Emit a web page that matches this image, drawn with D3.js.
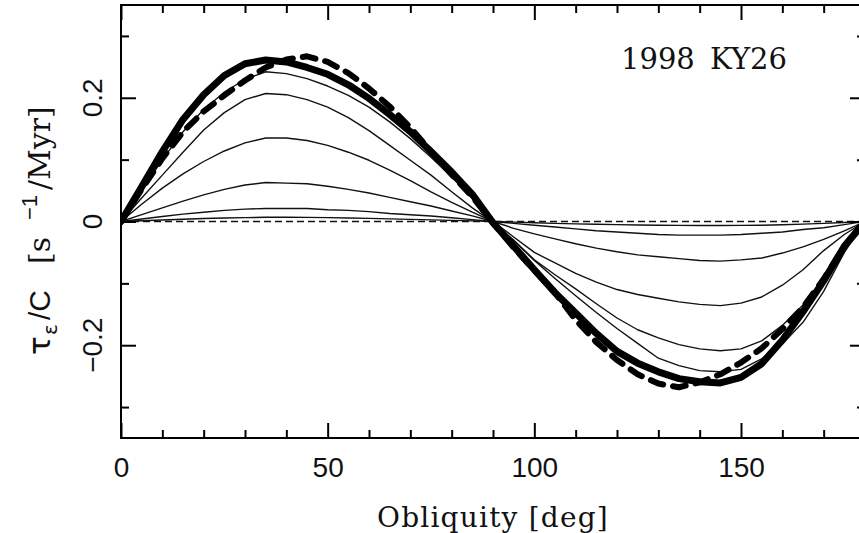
<!DOCTYPE html>
<html><head><meta charset="utf-8">
<script src="https://cdn.jsdelivr.net/npm/d3@7"></script>
<style>body{margin:0;background:#fff}svg{display:block}</style>
</head><body>
<svg id="c" width="859" height="533"></svg>
<script>
// ---- data ----
const obliquity = [0,5,10,15,20,25,30,35,40,45,50,55,60,65,70,75,80,85,90,95,100,105,110,115,120,125,130,135,140,145,150,155,160,165,170,175,180];
const thickSolid = [0,0.056,0.113,0.165,0.205,0.236,0.255,0.261,0.258,0.249,0.238,0.221,0.199,0.173,0.145,0.113,0.080,0.044,-0.002,
  -0.040,-0.078,-0.115,-0.148,-0.181,-0.210,-0.229,-0.243,-0.254,-0.259,-0.261,-0.252,-0.230,-0.192,-0.146,-0.096,-0.040,0];
const thickDashed = [0,0.052,0.102,0.145,0.178,0.204,0.228,0.249,0.262,0.267,0.258,0.240,0.215,0.186,0.152,0.113,0.076,0.040,-0.002,
  -0.042,-0.079,-0.115,-0.159,-0.195,-0.224,-0.247,-0.262,-0.268,-0.260,-0.247,-0.228,-0.205,-0.174,-0.139,-0.093,-0.040,0];
const thin1 = [0,0.050,0.100,0.145,0.181,0.209,0.230,0.242,0.239,0.231,0.219,0.204,0.185,0.161,0.134,0.104,0.072,0.037,-0.001,
  -0.031,-0.063,-0.092,-0.120,-0.147,-0.173,-0.197,-0.221,-0.233,-0.241,-0.243,-0.239,-0.222,-0.198,-0.163,-0.113,-0.050,0];
const thin2 = [0,0.038,0.075,0.112,0.148,0.176,0.197,0.207,0.205,0.197,0.185,0.168,0.147,0.123,0.099,0.075,0.048,0.022,-0.001,
  -0.030,-0.062,-0.086,-0.109,-0.133,-0.156,-0.175,-0.188,-0.199,-0.206,-0.209,-0.206,-0.193,-0.168,-0.135,-0.092,-0.045,0];
const thin3 = [0,0.028,0.054,0.077,0.097,0.114,0.127,0.135,0.135,0.131,0.123,0.112,0.099,0.083,0.066,0.048,0.031,0.015,0,
  -0.025,-0.050,-0.067,-0.084,-0.098,-0.110,-0.118,-0.124,-0.130,-0.134,-0.136,-0.132,-0.122,-0.103,-0.078,-0.047,-0.021,0];
const thin4 = [0,0.011,0.022,0.033,0.043,0.052,0.059,0.063,0.062,0.061,0.057,0.052,0.046,0.039,0.032,0.025,0.017,0.009,0,
  -0.011,-0.020,-0.028,-0.036,-0.043,-0.049,-0.054,-0.057,-0.060,-0.063,-0.064,-0.062,-0.059,-0.051,-0.041,-0.029,-0.015,0];
const thin5 = [0,0.004,0.008,0.012,0.015,0.018,0.020,0.021,0.021,0.021,0.019,0.018,0.016,0.013,0.011,0.009,0.006,0.003,0,
  -0.003,-0.006,-0.009,-0.012,-0.015,-0.017,-0.019,-0.021,-0.022,-0.022,-0.022,-0.021,-0.019,-0.017,-0.013,-0.010,-0.005,0];
const thin6 = [0,0.0012,0.0025,0.0037,0.0048,0.0057,0.0063,0.0068,0.0068,0.0066,0.0062,0.0057,0.0050,0.0043,0.0035,0.0027,0.0019,0.0010,0,
  -0.0010,-0.0020,-0.0030,-0.0038,-0.0045,-0.0051,-0.0056,-0.0060,-0.0062,-0.0064,-0.0065,-0.0063,-0.0060,-0.0053,-0.0043,-0.0030,-0.0016,0];
const zeroLine = [0, 0];
const zeroLineX = [0, 180];

const xMajor = [0, 50, 100, 150];
const xMinor = [10,20,30,40,60,70,80,90,110,120,130,140,160,170];
const yMajor = [-0.2, 0, 0.2];
const yMinor = [-0.3, -0.1, 0.1, 0.3];
const yTickLabels = ["\u22120.2", "0", "0.2"];
const xTitle = "Obliquity [deg]";
const objectName = ["1998", "KY26"];

// ---- layout ----
const L = 121, R = 865, T = 5, B = 438;
const x = d3.scaleLinear().domain([0, 180]).range([L, R]);
const y = d3.scaleLinear().domain([-0.35, 0.35]).range([B, T]);
const svg = d3.select("#c");
const sans = "'Liberation Sans', Arial, sans-serif";
const serif = "'DejaVu Serif', serif";

svg.append("defs").append("clipPath").attr("id","clip")
  .append("rect").attr("x",L).attr("y",T).attr("width",R-L).attr("height",B-T);

const plot = svg.append("g").attr("clip-path","url(#clip)");
const line = d3.line().x(d => x(d[0])).y(d => y(d[1]));

// zero dashed line
plot.append("path").datum(zeroLineX.map((v,i)=>[v,zeroLine[i]]))
  .attr("d", line).attr("fill","none").attr("stroke","#111")
  .attr("stroke-width",1.3).attr("stroke-dasharray","7,4");

[thin6, thin5, thin4, thin3, thin2, thin1].forEach(s => {
  plot.append("path").datum(obliquity.map((v,i)=>[v,s[i]]))
    .attr("d", line).attr("fill","none").attr("stroke","#111")
    .attr("stroke-width",1.4).attr("stroke-linejoin","round");
});
plot.append("path").datum(obliquity.map((v,i)=>[v,thickSolid[i]]))
  .attr("d", line).attr("fill","none").attr("stroke","#000")
  .attr("stroke-width",7).attr("stroke-linejoin","round").attr("stroke-linecap","round");
plot.append("path").datum(obliquity.map((v,i)=>[v,thickDashed[i]]))
  .attr("d", line).attr("fill","none").attr("stroke","#000")
  .attr("stroke-width",6).attr("stroke-linejoin","round").attr("stroke-linecap","round")
  .attr("stroke-dasharray","13,10");

// ---- axes (ticks inside the frame) ----
function tickAxis(gen, pos, vals, size) {
  const g = svg.append("g").attr("transform", pos)
    .call(gen.tickValues(vals).tickSize(size).tickFormat(""));
  g.select(".domain").remove();
  g.selectAll("line").attr("stroke","#000").attr("stroke-width",2);
}
tickAxis(d3.axisTop(x), `translate(0,${B})`, xMajor, 15);
tickAxis(d3.axisTop(x), `translate(0,${B})`, xMinor, 8);
tickAxis(d3.axisBottom(x), `translate(0,${T})`, xMajor, 15);
tickAxis(d3.axisBottom(x), `translate(0,${T})`, xMinor, 8);
tickAxis(d3.axisRight(y), `translate(${L},0)`, yMajor, 15);
tickAxis(d3.axisRight(y), `translate(${L},0)`, yMinor, 8);
tickAxis(d3.axisLeft(y), `translate(${R},0)`, yMajor, 15);
tickAxis(d3.axisLeft(y), `translate(${R},0)`, yMinor, 8);

// frame
svg.append("rect").attr("x",L).attr("y",T).attr("width",R-L).attr("height",B-T)
  .attr("fill","none").attr("stroke","#000").attr("stroke-width",2);

// x tick labels
const xl = svg.append("g").attr("transform",`translate(0,${B})`)
  .call(d3.axisBottom(x).tickValues(xMajor).tickSize(0).tickPadding(19).tickFormat(d3.format("d")));
xl.select(".domain").remove();
xl.selectAll("text").attr("font-family",sans).attr("font-size",28).attr("fill","#111");

// y tick labels (rotated)
yMajor.forEach((v,i) => {
  svg.append("text").attr("transform",`translate(102,${y(v)}) rotate(-90)`)
    .attr("text-anchor","middle").attr("font-family",sans).attr("font-size",28)
    .attr("fill","#111").text(yTickLabels[i]);
});

// x title
svg.append("text").attr("x",493).attr("y",527).attr("text-anchor","middle")
  .attr("font-family",serif).attr("font-size",28).attr("letter-spacing",1.2)
  .attr("fill","#111").text(xTitle);

// object name
svg.append("text").attr("x",621).attr("y",69).attr("font-family",serif)
  .attr("font-size",29).attr("fill","#111").text(objectName[0]);
svg.append("text").attr("x",710).attr("y",69).attr("font-family",serif)
  .attr("font-size",29).attr("fill","#111").text(objectName[1]);

// y title, pieces along the rotated baseline
const yt = svg.append("g").attr("transform","rotate(-90)");
const pieces = [
  {t:"\u03C4", s:355, bx:50, f:"'DejaVu Sans', sans-serif", fs:31},
  {t:"\u03B5", s:335, bx:57, f:"'DejaVu Sans', sans-serif", fs:20},
  {t:"/C", s:320, bx:50, f:sans, fs:30},
  {t:"[s", s:264, bx:50, f:serif, fs:30},
  {t:"\u22121", s:220, bx:37, f:sans, fs:22},
  {t:"/Myr]", s:190, bx:50, f:serif, fs:30}
];
pieces.forEach(p => {
  yt.append("text").attr("x",-p.s).attr("y",p.bx).attr("font-family",p.f)
    .attr("font-size",p.fs).attr("fill","#111").text(p.t);
});
</script>
</body></html>
